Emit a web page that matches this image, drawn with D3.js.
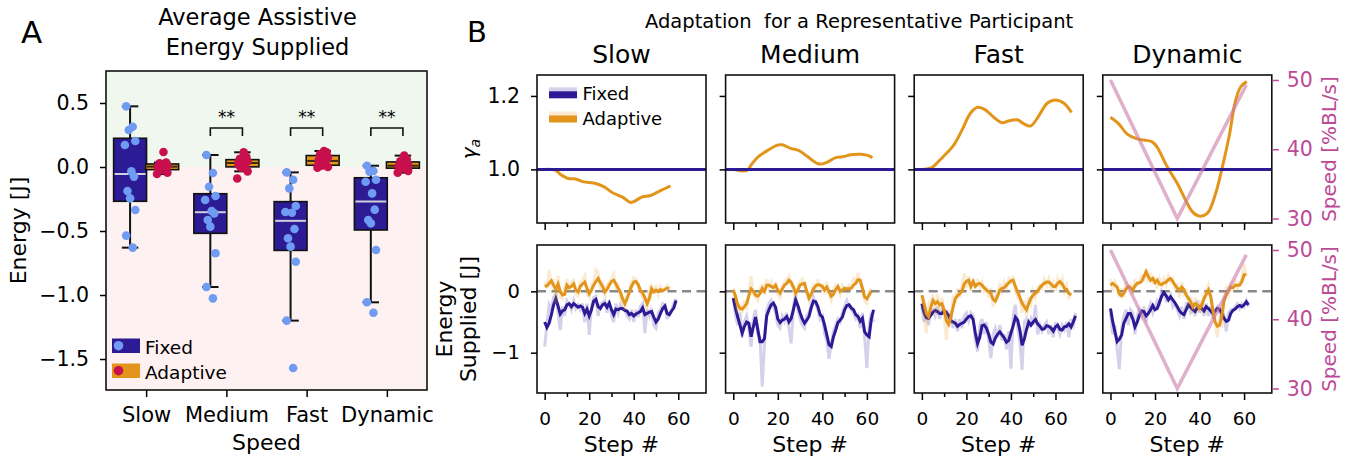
<!DOCTYPE html>
<html>
<head>
<meta charset="utf-8">
<script src="https://cdn.jsdelivr.net/npm/d3@7"></script>
<style>
  body { margin: 0; background: #fff; }
  text { font-family: "DejaVu Sans"; }
</style>
</head>
<body>
<svg id="chart" width="1354" height="460"></svg>
<script>
// ---------- data: panel A (per participant average energy, J) ----------
const speeds = ["Slow", "Medium", "Fast", "Dynamic"];
const fixedSlow = [0.474, 0.315, 0.289, 0.203, 0.172, -0.034, -0.075, -0.188, -0.245, -0.336, -0.536, -0.63];
const fixedMedium = [0.094, -0.047, -0.154, -0.227, -0.258, -0.344, -0.362, -0.414, -0.466, -0.674, -0.9375, -1.026];
const fixedFast = [-0.042, -0.10, -0.167, -0.305, -0.352, -0.357, -0.484, -0.557, -0.622, -0.74, -1.2, -1.57];
const fixedDynamic = [0.01, -0.031, -0.036, -0.10, -0.115, -0.206, -0.333, -0.414, -0.44, -0.648, -1.057, -1.138];
const adaptiveSlow = [0.117, 0.035, 0.029, 0.022, 0.012, 0.006, 0.0, -0.01, -0.02, -0.023, -0.045, -0.055];
const adaptiveMedium = [0.115, 0.08, 0.065, 0.055, 0.045, 0.035, 0.028, 0.016, 0.003, -0.005, -0.034, -0.09];
const adaptiveFast = [0.125, 0.115, 0.1, 0.086, 0.075, 0.055, 0.04, 0.03, 0.015, 0.01, 0.0, -0.005];
const adaptiveDynamic = [0.089, 0.06, 0.045, 0.038, 0.02, 0.012, 0.008, 0.003, -0.008, -0.012, -0.03, -0.044];
const significant = ["Medium", "Fast", "Dynamic"];
const yTicksA = [0.5, 0, -0.5, -1, -1.5];

// ---------- data: panel B (representative participant) ----------
const gammaSlowSteps = [0, 4.8, 7, 10.7, 13.8, 17.5, 22, 26.5, 30.3, 34.8, 38.5, 40, 43.8, 47.5, 52, 56.5];
const gammaSlow = [1.0, 0.998, 0.987, 0.975, 0.974, 0.966, 0.963, 0.953, 0.937, 0.925, 0.910, 0.912, 0.925, 0.929, 0.942, 0.955];
const gammaMediumSteps = [0, 3.3, 6.3, 8.5, 11.5, 15.3, 19.8, 22, 25.8, 29.5, 33.3, 37.8, 40, 42.3, 46, 49.8, 52.8, 57.3, 60.3, 62.5];
const gammaMedium = [1.0, 0.996, 0.998, 1.016, 1.036, 1.051, 1.066, 1.067, 1.057, 1.051, 1.035, 1.016, 1.015, 1.020, 1.032, 1.035, 1.040, 1.041, 1.038, 1.032];
const gammaFastSteps = [0, 4.5, 8.3, 14.3, 18, 21.8, 25, 28.5, 32.3, 36, 39, 42.8, 45.8, 48.8, 51.8, 56.3, 60, 63.8, 67.2];
const gammaFast = [1.0, 1.005, 1.027, 1.066, 1.107, 1.153, 1.169, 1.162, 1.142, 1.127, 1.132, 1.135, 1.124, 1.118, 1.139, 1.18, 1.189, 1.18, 1.155];
const gammaDynamicSteps = [0, 3.75, 7.5, 12, 15, 18.75, 21, 25.5, 30, 33.75, 36.75, 39.75, 43.5, 47.25, 50.25, 53.25, 56.25, 58.5, 61.2];
const gammaDynamic = [1.142, 1.124, 1.096, 1.083, 1.080, 1.075, 1.06, 1.007, 0.962, 0.916, 0.885, 0.873, 0.880, 0.935, 1.007, 1.089, 1.189, 1.225, 1.239];
const gammaFixed = 1.0;

const speedSteps = [0, 30, 61];
const speedValues = [50, 30, 49.3];

// energy per step: smoothed and raw
const slowFixedSmooth = [-0.50,-0.59,-0.52,-0.38,-0.22,-0.12,-0.24,-0.37,-0.32,-0.30,
  -0.22,-0.20,-0.25,-0.20,-0.23,-0.26,-0.24,-0.26,-0.36,-0.29,
  -0.40,-0.30,-0.16,-0.13,-0.25,-0.28,-0.22,-0.20,-0.26,-0.19,
  -0.30,-0.38,-0.29,-0.30,-0.28,-0.28,-0.31,-0.32,-0.38,-0.36,
  -0.40,-0.37,-0.35,-0.33,-0.27,-0.38,-0.36,-0.34,-0.33,-0.42,
  -0.50,-0.45,-0.36,-0.28,-0.24,-0.36,-0.38,-0.32,-0.27,-0.15];
const slowFixedRaw = [-0.90,-0.55,-0.22,-0.30,-0.10,-0.05,-0.35,-0.63,-0.25,-0.40,
  -0.15,-0.20,-0.30,-0.15,-0.28,-0.22,-0.30,-0.20,-0.50,-0.20,
  -0.71,-0.25,-0.10,-0.08,-0.40,-0.22,-0.18,-0.15,-0.35,-0.15,
  -0.40,-0.50,-0.20,-0.35,-0.22,-0.30,-0.30,-0.40,-0.45,-0.30,
  -0.50,-0.30,-0.42,-0.25,-0.20,-0.68,-0.30,-0.40,-0.28,-0.55,
  -0.60,-0.35,-0.30,-0.20,-0.22,-0.45,-0.35,-0.30,-0.20,-0.12];
const slowAdaptiveSmooth = [0.08,0.09,0.13,0.17,0.10,0.03,0.12,0.00,-0.06,-0.05,
  0.10,0.06,0.08,0.12,0.02,-0.01,0.08,0.12,0.15,0.05,
  -0.04,0.02,0.10,0.16,0.21,0.14,0.08,-0.01,0.03,0.10,
  0.16,0.18,0.12,0.05,-0.01,-0.12,-0.20,-0.12,-0.02,0.08,
  0.15,0.16,0.11,0.02,-0.03,-0.10,-0.20,-0.12,0.04,-0.01,
  0.02,0.00,0.03,0.01,0.03,0.05,0.05];
const slowAdaptiveRaw = [0.15,0.05,0.35,0.10,0.20,-0.20,0.25,-0.10,-0.12,0.05,
  0.20,0.00,0.15,0.18,-0.05,-0.08,0.15,0.18,0.25,-0.05,
  -0.10,0.10,0.15,0.35,0.30,0.05,0.12,-0.10,0.10,0.15,
  0.20,0.28,0.05,0.10,-0.10,-0.20,-0.30,-0.05,0.05,0.15,
  0.22,0.20,0.05,0.00,-0.10,-0.15,-0.30,0.00,0.12,-0.05,
  0.10,-0.05,0.08,0.00,0.05,0.10,0.05];

const mediumFixedSmooth = [-0.11,-0.28,-0.42,-0.55,-0.68,-0.57,-0.50,-0.52,-0.74,-0.58,
  -0.42,-0.62,-0.82,-0.82,-0.77,-0.40,-0.30,-0.22,-0.19,-0.26,
  -0.45,-0.51,-0.47,-0.45,-0.41,-0.50,-0.44,-0.30,-0.14,-0.23,
  -0.35,-0.45,-0.52,-0.47,-0.41,-0.27,-0.16,-0.17,-0.25,-0.38,
  -0.42,-0.55,-0.71,-0.87,-0.90,-0.74,-0.63,-0.51,-0.47,-0.42,
  -0.30,-0.23,-0.22,-0.27,-0.30,-0.38,-0.41,-0.49,-0.44,-0.66,
  -0.71,-0.74,-0.45,-0.30];
const mediumFixedRaw = [-0.10,-0.40,-0.55,-0.35,-0.75,-0.50,-0.40,-0.60,-0.90,-0.45,
  -0.30,-0.70,-0.75,-1.55,-0.85,-0.30,-0.20,-0.15,-0.25,-0.35,
  -0.55,-0.60,-0.40,-0.48,-0.35,-0.60,-0.85,-0.25,-0.05,-0.30,
  -0.45,-0.55,-0.60,-0.40,-0.35,-0.20,-0.10,-0.20,-0.30,-0.45,
  -0.40,-0.70,-0.80,-1.10,-0.85,-0.65,-0.55,-0.45,-0.50,-0.35,
  -0.25,-0.15,-0.25,-0.30,-0.35,-0.45,-0.40,-0.60,-0.35,-0.75,
  -1.25,-0.55,-0.35,-0.50];
const mediumAdaptiveSmooth = [0.02,-0.08,-0.22,-0.28,-0.29,-0.25,-0.20,-0.07,0.04,0.00,
  -0.06,-0.08,-0.04,0.05,0.00,0.10,0.10,0.08,0.06,0.10,
  0.02,-0.03,0.04,0.10,0.13,0.18,0.15,0.07,-0.03,0.02,
  0.10,0.12,0.13,0.00,-0.11,-0.05,0.04,0.09,0.11,0.10,
  0.08,0.02,0.07,0.00,-0.08,-0.05,0.03,0.08,0.00,0.02,
  0.05,0.04,0.04,0.05,0.10,0.13,0.19,0.18,0.05,-0.09,
  -0.12,-0.06,0.00];
const mediumAdaptiveRaw = [0.05,-0.15,-0.35,-0.20,-0.35,-0.15,-0.30,0.00,0.25,-0.05,
  -0.10,-0.15,0.05,0.10,-0.05,0.20,0.05,0.15,0.00,0.15,
  -0.05,-0.10,0.10,0.15,0.20,0.25,0.10,0.05,-0.10,0.10,
  0.15,0.20,0.10,-0.05,-0.15,0.00,0.10,0.05,0.20,0.05,
  0.10,-0.05,0.15,-0.05,-0.15,0.05,0.10,0.05,-0.05,0.10,
  0.05,0.00,0.10,0.08,0.20,0.15,0.30,0.15,0.05,-0.15,
  -0.20,0.00,0.05];

const fastFixedSmooth = [-0.20,-0.35,-0.43,-0.44,-0.39,-0.34,-0.31,-0.33,-0.36,-0.36,
  -0.31,-0.34,-0.39,-0.48,-0.50,-0.52,-0.57,-0.54,-0.52,-0.50,
  -0.45,-0.41,-0.40,-0.46,-0.68,-0.85,-0.75,-0.56,-0.55,-0.60,
  -0.70,-0.83,-0.86,-0.76,-0.70,-0.66,-0.71,-0.76,-0.83,-0.80,
  -0.68,-0.56,-0.42,-0.47,-0.63,-0.88,-0.78,-0.62,-0.50,-0.55,
  -0.50,-0.46,-0.53,-0.57,-0.62,-0.61,-0.56,-0.57,-0.60,-0.65,
  -0.58,-0.55,-0.62,-0.63,-0.58,-0.57,-0.53,-0.58,-0.50,-0.40];
const fastFixedRaw = [-0.25,-0.50,-0.35,-0.55,-0.30,-0.30,-0.40,-0.25,-0.45,-0.30,
  -0.35,-0.35,-0.45,-0.40,-0.60,-0.45,-0.65,-0.45,-0.60,-0.40,
  -0.35,-0.48,-0.35,-0.40,-0.80,-0.98,-0.55,-0.45,-0.70,-0.50,
  -0.80,-1.09,-0.70,-0.60,-0.75,-0.55,-0.80,-0.70,-0.95,-0.65,
  -1.26,-0.40,-0.22,-0.60,-0.80,-1.28,-0.50,-0.45,-0.60,-0.45,
  -0.55,-0.22,-0.70,-0.55,-0.65,-0.55,-0.50,-0.70,-0.55,-0.75,
  -0.50,-0.60,-0.70,-0.55,-0.62,-0.50,-0.75,-0.45,-0.55,-0.35];
const fastAdaptiveSmooth = [-0.06,-0.20,-0.36,-0.41,-0.26,-0.15,-0.20,-0.17,-0.22,-0.20,
  -0.30,-0.48,-0.54,-0.42,-0.26,-0.12,-0.07,-0.04,0.00,0.12,
  0.16,0.18,0.08,0.16,0.08,0.12,0.13,0.10,0.06,0.02,
  0.00,-0.04,-0.13,-0.16,-0.08,0.02,0.05,0.06,0.10,0.14,
  0.17,0.18,0.08,-0.01,-0.10,-0.19,-0.25,-0.30,-0.20,-0.11,
  -0.06,-0.03,0.00,0.06,0.10,0.13,0.15,0.15,0.12,0.08,
  0.08,0.13,0.16,0.12,0.05,0.03,-0.03,-0.06];
const fastAdaptiveRaw = [-0.10,-0.40,-0.68,-0.20,-0.15,-0.05,-0.35,-0.05,-0.35,-0.10,
  -0.40,-0.79,-0.30,-0.55,-0.10,-0.15,0.05,-0.10,0.10,0.29,
  0.05,0.25,0.00,0.20,0.05,0.20,0.05,0.15,0.00,0.05,
  -0.10,0.05,-0.25,-0.10,0.00,0.10,0.00,0.15,0.05,0.20,
  0.15,0.25,0.00,-0.10,-0.05,-0.35,-0.15,-0.40,-0.10,-0.20,
  0.00,-0.10,0.05,0.10,0.05,0.20,0.10,0.20,0.05,0.15,
  0.00,0.20,0.10,0.20,0.00,0.10,-0.10,-0.05];

const dynamicFixedSmooth = [-0.28,-0.49,-0.66,-0.82,-0.78,-0.71,-0.52,-0.44,-0.36,-0.36,
  -0.45,-0.58,-0.50,-0.39,-0.32,-0.33,-0.40,-0.36,-0.30,-0.23,
  -0.30,-0.28,-0.18,-0.08,-0.02,-0.07,-0.14,-0.09,-0.14,-0.19,
  -0.25,-0.32,-0.36,-0.38,-0.30,-0.22,-0.26,-0.30,-0.33,-0.27,
  -0.25,-0.28,-0.32,-0.25,-0.28,-0.32,-0.36,-0.33,-0.28,-0.29,
  -0.36,-0.44,-0.49,-0.47,-0.36,-0.31,-0.29,-0.25,-0.23,-0.25,
  -0.22,-0.17,-0.22];
const dynamicFixedRaw = [-0.35,-0.70,-0.55,-0.95,-1.27,-0.60,-0.40,-0.30,-0.55,-0.30,
  -0.35,-0.70,-0.40,-0.30,-0.40,-0.25,-0.50,-0.30,-0.20,-0.35,
  -0.25,-0.15,-0.20,0.00,-0.05,-0.15,-0.10,-0.05,-0.25,-0.20,
  -0.30,-0.40,-0.25,-0.45,-0.20,-0.20,-0.35,-0.30,-0.40,-0.15,
  -0.35,-0.20,-0.40,-0.20,-0.40,-0.25,-0.45,-0.30,-0.25,-0.35,
  -0.45,-0.40,-0.65,-0.35,-0.30,-0.30,-0.25,-0.20,-0.28,-0.20,
  -0.25,-0.15,-0.25];
const dynamicAdaptiveSmooth = [0.10,0.13,0.10,0.07,-0.04,-0.07,-0.03,0.04,0.08,0.06,
  0.02,0.09,0.13,0.14,0.16,0.24,0.32,0.24,0.18,0.21,
  0.14,0.18,0.12,0.11,0.14,0.15,0.19,0.21,0.16,0.10,
  0.05,0.02,0.07,0.03,-0.06,-0.11,-0.17,-0.25,-0.20,-0.22,
  -0.28,-0.22,-0.12,-0.05,0.02,-0.08,-0.30,-0.50,-0.57,-0.55,
  -0.40,-0.16,-0.06,0.00,0.07,0.06,0.10,0.10,0.10,0.16,
  0.27,0.27];
const dynamicAdaptiveRaw = [0.20,0.00,0.15,0.05,-0.10,0.05,-0.10,0.15,0.05,0.10,
  -0.05,0.20,0.10,0.15,0.25,0.20,0.35,0.15,0.30,0.15,
  0.20,0.05,0.20,0.10,0.20,0.10,0.25,0.15,0.20,0.05,
  0.10,-0.10,0.15,-0.05,0.00,-0.20,-0.10,-0.35,-0.10,-0.30,
  -0.20,-0.35,-0.05,0.00,0.10,-0.10,-0.40,-0.50,-0.75,-0.40,
  -0.60,-0.10,0.05,-0.05,0.15,0.00,0.20,0.05,0.15,0.20,
  0.45,0.25];

const stepTicks = [0, 20, 40, 60];
const stepMinor = [10, 30, 50];
const gammaTicks = [1.0, 1.2];
const energyTicks = [0, -1];
const speedTicks = [30, 40, 50];

// ---------- colours ----------
const fixedColor = "#2d1b96";
const adaptiveColor = "#e3941a";
const fixedDot = "#6f9cf2";
const adaptiveDot = "#c8104e";
const speedColor = "#cc79a7";
const speedText = "#bd4a97";
const sans = "Noto Sans";

const svg = d3.select("#chart");

function styleAxis(g, size, color) {
  g.select(".domain").remove();
  g.selectAll(".tick line").attr("stroke", color || "#000").attr("stroke-width", 1.5);
  g.selectAll(".tick text").attr("font-family", "DejaVu Sans").attr("font-size", size).attr("fill", color || "#000");
}

// ================= Panel A =================
const A = { left: 106, right: 427, top: 71, bottom: 390 };
const xA = d3.scaleLinear().domain([-0.5, 3.5]).range([A.left, A.right]);
const yA = d3.scaleLinear().domain([-1.742, 0.75]).range([A.bottom, A.top]);
const fixedA = [fixedSlow, fixedMedium, fixedFast, fixedDynamic];
const adaptiveA = [adaptiveSlow, adaptiveMedium, adaptiveFast, adaptiveDynamic];

const gA = svg.append("g");
gA.append("rect").attr("x", A.left).attr("y", A.top)
  .attr("width", A.right - A.left).attr("height", yA(0) - A.top).attr("fill", "#eff7ef");
gA.append("rect").attr("x", A.left).attr("y", yA(0))
  .attr("width", A.right - A.left).attr("height", A.bottom - yA(0)).attr("fill", "#fdf1f1");

function boxStats(vals) {
  const s = vals.slice().sort(d3.ascending);
  const q1 = d3.quantile(s, 0.25), med = d3.quantile(s, 0.5), q3 = d3.quantile(s, 0.75);
  const iqr = q3 - q1;
  const lo = d3.min(s.filter(v => v >= q1 - 1.5 * iqr));
  const hi = d3.max(s.filter(v => v <= q3 + 1.5 * iqr));
  return { q1, med, q3, lo, hi };
}

const boxW = 0.41;
function drawBox(cx, vals, fill, medColor) {
  const st = boxStats(vals);
  const half = (xA(boxW) - xA(0)) / 2;
  const px = xA(cx);
  gA.append("line").attr("x1", px).attr("x2", px).attr("y1", yA(st.hi)).attr("y2", yA(st.q3))
    .attr("stroke", "#111").attr("stroke-width", 2);
  gA.append("line").attr("x1", px).attr("x2", px).attr("y1", yA(st.q1)).attr("y2", yA(st.lo))
    .attr("stroke", "#111").attr("stroke-width", 2);
  [st.hi, st.lo].forEach(v => gA.append("line").attr("x1", px - half / 2).attr("x2", px + half / 2)
    .attr("y1", yA(v)).attr("y2", yA(v)).attr("stroke", "#111").attr("stroke-width", 2));
  gA.append("rect").attr("x", px - half).attr("width", 2 * half)
    .attr("y", yA(st.q3)).attr("height", Math.max(yA(st.q1) - yA(st.q3), 1))
    .attr("fill", fill).attr("stroke", "#111").attr("stroke-width", 1.6);
  gA.append("line").attr("x1", px - half + 1).attr("x2", px + half - 1).attr("y1", yA(st.med)).attr("y2", yA(st.med))
    .attr("stroke", medColor).attr("stroke-width", 2);
}

speeds.forEach((s, i) => {
  drawBox(i - 0.2, fixedA[i], fixedColor, "#d0d0dc");
  drawBox(i + 0.2, adaptiveA[i], adaptiveColor, "#3a2a10");
});

// strip points (small deterministic jitter)
const jit = [-3, 2, -1, 4, -4, 1, 3, -2, 0, 4, -3, 2];
speeds.forEach((s, i) => {
  gA.selectAll(null).data(fixedA[i]).enter().append("circle")
    .attr("cx", (d, j) => xA(i - 0.2) + jit[j] * 1.3).attr("cy", d => yA(d)).attr("r", 4.3)
    .attr("fill", fixedDot);
  gA.selectAll(null).data(adaptiveA[i]).enter().append("circle")
    .attr("cx", (d, j) => xA(i + 0.2) + jit[(j + 5) % 12] * 1.3).attr("cy", d => yA(d)).attr("r", 4.3)
    .attr("fill", adaptiveDot);
});

// significance brackets
significant.forEach(s => {
  const i = speeds.indexOf(s);
  const x1 = xA(i - 0.2), x2 = xA(i + 0.2), yt = yA(0.305), yb = yA(0.242);
  gA.append("path").attr("d", `M${x1},${yb}V${yt}H${x2}V${yb}`)
    .attr("fill", "none").attr("stroke", "#111").attr("stroke-width", 1.6);
  gA.append("text").attr("x", (x1 + x2) / 2).attr("y", yt - 5).attr("text-anchor", "middle")
    .attr("font-size", 17).text("**");
});

gA.append("rect").attr("x", A.left).attr("y", A.top).attr("width", A.right - A.left).attr("height", A.bottom - A.top)
  .attr("fill", "none").attr("stroke", "#111").attr("stroke-width", 1.6);

const ayA = gA.append("g").attr("transform", `translate(${A.left},0)`)
  .call(d3.axisLeft(yA).tickValues(yTicksA).tickFormat(d3.format(".1f")).tickSize(6).tickPadding(11));
styleAxis(ayA, 20.5);
const axA = gA.append("g").attr("transform", `translate(0,${A.bottom})`)
  .call(d3.axisBottom(xA).tickValues([0, 1, 2, 3]).tickFormat(i => speeds[i]).tickSize(7).tickPadding(10));
styleAxis(axA, 21);
axA.selectAll(".tick text").attr("font-family", sans);

// legend A
const legA = [["Fixed", fixedColor, fixedDot], ["Adaptive", adaptiveColor, adaptiveDot]];
legA.forEach((l, k) => {
  const y0 = 338.5 + k * 25;
  gA.append("rect").attr("x", 112).attr("y", y0).attr("width", 28).attr("height", 14.5).attr("fill", l[1]);
  gA.append("circle").attr("cx", 118.5).attr("cy", y0 + 7.2).attr("r", 4.8).attr("fill", l[2]);
  gA.append("text").attr("x", 145).attr("y", y0 + 15).attr("font-family", sans).attr("font-size", 18.5).text(l[0]);
});

gA.append("text").attr("transform", "translate(26,230.5) rotate(-90)").attr("text-anchor", "middle")
  .attr("font-family", sans).attr("font-size", 22).text("Energy [J]");
gA.append("text").attr("x", 266.5).attr("y", 450).attr("text-anchor", "middle")
  .attr("font-family", sans).attr("font-size", 22).text("Speed");
gA.append("text").attr("x", 257.5).attr("y", 25).attr("text-anchor", "middle")
  .attr("font-family", sans).attr("font-size", 22.5).text("Average Assistive");
gA.append("text").attr("x", 257.5).attr("y", 54.5).attr("text-anchor", "middle")
  .attr("font-family", sans).attr("font-size", 22.5).text("Energy Supplied");
gA.append("text").attr("x", 21).attr("y", 43).attr("font-family", sans).attr("font-size", 31).text("A");

// ================= Panel B =================
const colLeft = [537, 725.6, 914.2, 1102.8];
const W = 169;
const rowTop = [75, 245];
const H = 148;
const xB = d3.scaleLinear().domain([-3.45, 72.45]).range([0, W]);
const yG = d3.scaleLinear().domain([0.854, 1.257]).range([H, 0]);
const yE = d3.scaleLinear().domain([-1.657, 0.755]).range([H, 0]);
const yS = d3.scaleLinear().domain([29.35, 50.72]).range([H, 0]);

const gammaSteps = [gammaSlowSteps, gammaMediumSteps, gammaFastSteps, gammaDynamicSteps];
const gammaVals = [gammaSlow, gammaMedium, gammaFast, gammaDynamic];
const eFixedSmooth = [slowFixedSmooth, mediumFixedSmooth, fastFixedSmooth, dynamicFixedSmooth];
const eFixedRaw = [slowFixedRaw, mediumFixedRaw, fastFixedRaw, dynamicFixedRaw];
const eAdaptSmooth = [slowAdaptiveSmooth, mediumAdaptiveSmooth, fastAdaptiveSmooth, dynamicAdaptiveSmooth];
const eAdaptRaw = [slowAdaptiveRaw, mediumAdaptiveRaw, fastAdaptiveRaw, dynamicAdaptiveRaw];

const lineE = d3.line().x((d, i) => xB(i)).y(d => yE(d));
const lineS = d3.line().x(d => xB(d[0])).y(d => yS(d[1]));

function xAxes(g, withLabels) {
  const ax = g.append("g").attr("transform", `translate(0,${H})`)
    .call(d3.axisBottom(xB).tickValues(stepTicks).tickFormat(withLabels ? d3.format("d") : "").tickSize(7).tickPadding(12));
  styleAxis(ax, 18.5);
  const mn = g.append("g").attr("transform", `translate(0,${H})`)
    .call(d3.axisBottom(xB).tickValues(stepMinor).tickFormat("").tickSize(4));
  styleAxis(mn, 10);
}

speeds.forEach((s, c) => {
  // ---- top row: gamma ----
  const gt = svg.append("g").attr("transform", `translate(${colLeft[c]},${rowTop[0]})`);
  const pts = gammaSteps[c].map((st, k) => [st, gammaVals[c][k]]);
  gt.append("path").datum(pts)
    .attr("d", d3.line().x(d => xB(d[0])).y(d => yG(d[1])).curve(d3.curveCatmullRom))
    .attr("fill", "none").attr("stroke", adaptiveColor).attr("stroke-width", 3);
  gt.append("line").attr("x1", 0).attr("x2", W).attr("y1", yG(gammaFixed)).attr("y2", yG(gammaFixed))
    .attr("stroke", fixedColor).attr("stroke-width", 3);
  if (s === "Dynamic") {
    gt.append("path").datum(speedSteps.map((st, k) => [st, speedValues[k]])).attr("d", lineS)
      .attr("fill", "none").attr("stroke", speedColor).attr("stroke-opacity", 0.6).attr("stroke-width", 3.5);
  }
  gt.append("rect").attr("width", W).attr("height", H).attr("fill", "none").attr("stroke", "#111").attr("stroke-width", 1.6);
  const ayt = gt.append("g").call(d3.axisLeft(yG).tickValues(gammaTicks)
    .tickFormat(c === 0 ? d3.format(".1f") : "").tickSize(6).tickPadding(11));
  styleAxis(ayt, 20.5);
  xAxes(gt, false);

  // ---- bottom row: energy ----
  const gb = svg.append("g").attr("transform", `translate(${colLeft[c]},${rowTop[1]})`);
  gb.append("line").attr("x1", 0).attr("x2", W).attr("y1", yE(0)).attr("y2", yE(0))
    .attr("stroke", "#888").attr("stroke-width", 2.5).attr("stroke-dasharray", "9,5.5");
  gb.append("path").attr("d", lineE(eFixedRaw[c])).attr("fill", "none")
    .attr("stroke", fixedColor).attr("stroke-opacity", 0.2).attr("stroke-width", 3);
  gb.append("path").attr("d", lineE(eFixedSmooth[c])).attr("fill", "none")
    .attr("stroke", fixedColor).attr("stroke-width", 3);
  gb.append("path").attr("d", lineE(eAdaptRaw[c])).attr("fill", "none")
    .attr("stroke", adaptiveColor).attr("stroke-opacity", 0.2).attr("stroke-width", 3);
  gb.append("path").attr("d", lineE(eAdaptSmooth[c])).attr("fill", "none")
    .attr("stroke", adaptiveColor).attr("stroke-width", 3);
  if (s === "Dynamic") {
    gb.append("path").datum(speedSteps.map((st, k) => [st, speedValues[k]])).attr("d", lineS)
      .attr("fill", "none").attr("stroke", speedColor).attr("stroke-opacity", 0.6).attr("stroke-width", 3.5);
  }
  gb.append("rect").attr("width", W).attr("height", H).attr("fill", "none").attr("stroke", "#111").attr("stroke-width", 1.6);
  const ayb = gb.append("g").call(d3.axisLeft(yE).tickValues(energyTicks)
    .tickFormat(c === 0 ? d3.format("d") : "").tickSize(6).tickPadding(11));
  styleAxis(ayb, 19.5);
  xAxes(gb, true);
  gb.append("text").attr("x", W / 2).attr("y", 451.5 - rowTop[1]).attr("text-anchor", "middle")
    .attr("font-family", sans).attr("font-size", 22).text("Step #");

  if (s === "Dynamic") {
    [gt, gb].forEach(g => {
      const ar = g.append("g").attr("transform", `translate(${W},0)`)
        .call(d3.axisRight(yS).tickValues(speedTicks).tickSize(7).tickPadding(8));
      styleAxis(ar, 20.5, speedText);
      g.append("text").attr("transform", `translate(${W + 64},${H / 2}) rotate(-90)`).attr("text-anchor", "middle")
        .attr("font-size", 20).attr("fill", speedText).text("Speed [%BL/s]");
    });
  }

  svg.append("text").attr("x", colLeft[c] + W / 2).attr("y", 63).attr("text-anchor", "middle")
    .attr("font-family", sans).attr("font-size", 25).text(s);
});

// legend B (inside Slow gamma panel)
const legB = [["Fixed", fixedColor, 87.3], ["Adaptive", adaptiveColor, 111.5]];
legB.forEach(l => {
  svg.append("rect").attr("x", 549).attr("y", l[2]).attr("width", 28).attr("height", 5).attr("fill", l[1]).attr("opacity", 0.2);
  svg.append("rect").attr("x", 549).attr("y", l[2] + 4).attr("width", 28).attr("height", 7).attr("fill", l[1]);
  svg.append("text").attr("x", 582.5).attr("y", l[2] + 13).attr("font-family", sans).attr("font-size", 18).text(l[0]);
});

// axis labels panel B
const gl = svg.append("text").attr("transform", "translate(476,149) rotate(-90)").attr("text-anchor", "middle")
  .attr("font-size", 20).attr("font-style", "italic");
gl.append("tspan").text("γ");
gl.append("tspan").attr("font-size", 14).attr("dy", 4).text("a");

svg.append("text").attr("transform", "translate(452,319) rotate(-90)").attr("text-anchor", "middle")
  .attr("font-family", sans).attr("font-size", 22).text("Energy");
svg.append("text").attr("transform", "translate(476,319) rotate(-90)").attr("text-anchor", "middle")
  .attr("font-family", sans).attr("font-size", 22).text("Supplied [J]");

svg.append("text").attr("x", 645).attr("y", 28).attr("font-family", sans).attr("font-size", 19.5)
  .attr("xml:space", "preserve").style("white-space", "pre").text("Adaptation  for a Representative Participant");
svg.append("text").attr("x", 467).attr("y", 42).attr("font-family", sans).attr("font-size", 29).text("B");
</script>
</body>
</html>
